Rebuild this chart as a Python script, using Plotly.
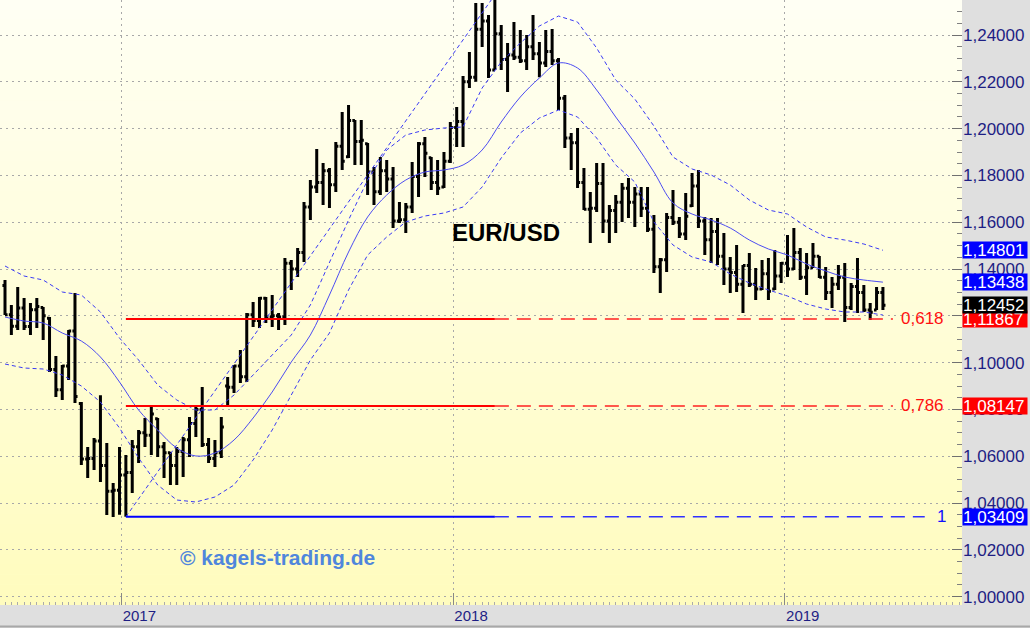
import plotly.graph_objects as go
import pandas as pd

# ---------------- data (weekly EUR/USD bars) ----------------
dates = pd.date_range("2016-08-26", periods=139, freq="7D")

opens = [1.1330, 1.1205, 1.1155, 1.1233, 1.1154, 1.1226, 1.1235, 1.1190, 1.0971, 1.0884,
         1.0985, 1.1135, 1.0825, 1.0588, 1.0590, 1.0665, 1.0560, 1.0450, 1.0455, 1.0520,
         1.0530, 1.0640, 1.0700, 1.0690, 1.0760, 1.0640, 1.0615, 1.0560, 1.0620, 1.0670,
         1.0740, 1.0800, 1.0650, 1.0590, 1.0615, 1.0900, 1.0895, 1.0985, 1.0940, 1.1205,
         1.1180, 1.1275, 1.1195, 1.1200, 1.1195, 1.1425, 1.1400, 1.1470, 1.1665, 1.1750,
         1.1770, 1.1820, 1.1760, 1.1925, 1.1880, 1.2035, 1.1945, 1.1935, 1.1815, 1.1730,
         1.1820, 1.1785, 1.1605, 1.1610, 1.1665, 1.1795, 1.1935, 1.1875, 1.1770, 1.1750,
         1.1860, 1.2005, 1.2030, 1.2200, 1.2220, 1.2425, 1.2460, 1.2250, 1.2405, 1.2295,
         1.2315, 1.2305, 1.2290, 1.2350, 1.2320, 1.2280, 1.2330, 1.2290, 1.2130, 1.1960,
         1.1940, 1.1770, 1.1655, 1.1660, 1.1765, 1.1605, 1.1650, 1.1685, 1.1745, 1.1685,
         1.1720, 1.1660, 1.1570, 1.1410, 1.1440, 1.1620, 1.1600, 1.1550, 1.1670, 1.1755,
         1.1605, 1.1525, 1.1560, 1.1455, 1.1400, 1.1385, 1.1335, 1.1415, 1.1335, 1.1315,
         1.1380, 1.1315, 1.1370, 1.1425, 1.1400, 1.1470, 1.1365, 1.1405, 1.1455, 1.1365,
         1.1300, 1.1335, 1.1365, 1.1235, 1.1325, 1.1300, 1.1225, 1.1225, 1.1300]

highs = [1.1353, 1.1246, 1.1323, 1.1276, 1.1255, 1.1276, 1.1238, 1.1195, 1.1028, 1.0990,
         1.1139, 1.1297, 1.0832, 1.0639, 1.0678, 1.0861, 1.0656, 1.0485, 1.0639, 1.0605,
         1.0669, 1.0712, 1.0763, 1.0819, 1.0763, 1.0661, 1.0618, 1.0639, 1.0682, 1.0768,
         1.0810, 1.0896, 1.0678, 1.0669, 1.0768, 1.0939, 1.0990, 1.1054, 1.1212, 1.1259,
         1.1280, 1.1280, 1.1289, 1.1212, 1.1447, 1.1438, 1.1490, 1.1686, 1.1780, 1.1913,
         1.1853, 1.1832, 1.1943, 1.2071, 1.2101, 1.2037, 1.2037, 1.1938, 1.1836, 1.1879,
         1.1866, 1.1836, 1.1686, 1.1682, 1.1857, 1.1943, 1.1964, 1.1879, 1.1866, 1.1900,
         1.2028, 1.2092, 1.2225, 1.2327, 1.2537, 1.2537, 1.2485, 1.2555, 1.2443, 1.2366,
         1.2456, 1.2421, 1.2400, 1.2485, 1.2370, 1.2421, 1.2426, 1.2302, 1.2144, 1.1981,
         1.2003, 1.1832, 1.1729, 1.1853, 1.1853, 1.1673, 1.1716, 1.1768, 1.1789, 1.1750,
         1.1750, 1.1750, 1.1631, 1.1447, 1.1639, 1.1738, 1.1622, 1.1725, 1.1810, 1.1823,
         1.1622, 1.1618, 1.1618, 1.1554, 1.1451, 1.1503, 1.1417, 1.1468, 1.1404, 1.1438,
         1.1447, 1.1481, 1.1430, 1.1545, 1.1575, 1.1490, 1.1468, 1.1511, 1.1456, 1.1409,
         1.1366, 1.1417, 1.1426, 1.1340, 1.1447, 1.1332, 1.1255, 1.1323, 1.1323]

lows = [1.1203, 1.1118, 1.1139, 1.1139, 1.1118, 1.1148, 1.1097, 1.0960, 1.0853, 1.0840,
        1.0926, 1.0827, 1.0562, 1.0507, 1.0541, 1.0490, 1.0349, 1.0340, 1.0350, 1.03409,
        1.0443, 1.0571, 1.0639, 1.0605, 1.0597, 1.0507, 1.0477, 1.0477, 1.0511, 1.0597,
        1.0682, 1.0639, 1.0571, 1.0554, 1.0592, 1.0810, 1.0870, 1.0913, 1.0917, 1.1152,
        1.1148, 1.1169, 1.1152, 1.1139, 1.1161, 1.1310, 1.1366, 1.1430, 1.1609, 1.1725,
        1.1674, 1.1661, 1.1729, 1.1823, 1.1874, 1.1844, 1.1844, 1.1716, 1.1674, 1.1716,
        1.1729, 1.1575, 1.1597, 1.1554, 1.1639, 1.1708, 1.1793, 1.1738, 1.1716, 1.1746,
        1.1853, 1.1921, 1.1921, 1.2174, 1.2200, 1.2349, 1.2216, 1.2250, 1.2250, 1.2156,
        1.2293, 1.2280, 1.2250, 1.2293, 1.2220, 1.2263, 1.2272, 1.2079, 1.1917, 1.1823,
        1.1746, 1.1652, 1.1511, 1.1644, 1.1554, 1.1511, 1.1554, 1.1601, 1.1618, 1.1579,
        1.1622, 1.1558, 1.1383, 1.1297, 1.1387, 1.1588, 1.1532, 1.1524, 1.1665, 1.1575,
        1.1460, 1.1426, 1.1417, 1.1332, 1.1297, 1.1302, 1.1212, 1.1323, 1.1267, 1.1310,
        1.1267, 1.1310, 1.1340, 1.1366, 1.1396, 1.1353, 1.1289, 1.1404, 1.1362, 1.1267,
        1.1233, 1.1310, 1.1174, 1.1225, 1.1212, 1.1216, 1.1182, 1.1225, 1.1225]

closes = [1.1205, 1.1155, 1.1233, 1.1154, 1.1226, 1.1240, 1.1200, 1.0971, 1.0884, 1.0985,
          1.1135, 1.0855, 1.0588, 1.0590, 1.0665, 1.0560, 1.0450, 1.0455, 1.0520, 1.0530,
          1.0640, 1.0700, 1.0690, 1.0780, 1.0640, 1.0615, 1.0560, 1.0620, 1.0670, 1.0740,
          1.0800, 1.0650, 1.0590, 1.0615, 1.0725, 1.0895, 1.0985, 1.0940, 1.1205, 1.1180,
          1.1275, 1.1195, 1.1200, 1.1195, 1.1425, 1.1400, 1.1470, 1.1665, 1.1750, 1.1770,
          1.1820, 1.1760, 1.1925, 1.1860, 1.2035, 1.1945, 1.1950, 1.1815, 1.1730, 1.1820,
          1.1785, 1.1605, 1.1610, 1.1665, 1.1795, 1.1935, 1.1895, 1.1770, 1.1745, 1.1860,
          1.2005, 1.2030, 1.2200, 1.2220, 1.2425, 1.2460, 1.2250, 1.2405, 1.2295, 1.2315,
          1.2305, 1.2290, 1.2350, 1.2320, 1.2280, 1.2330, 1.2290, 1.2130, 1.1960, 1.1940,
          1.1770, 1.1655, 1.1660, 1.1765, 1.1605, 1.1650, 1.1685, 1.1745, 1.1685, 1.1720,
          1.1660, 1.1570, 1.1410, 1.1440, 1.1620, 1.1600, 1.1550, 1.1625, 1.1755, 1.1605,
          1.1525, 1.1560, 1.1455, 1.1400, 1.1385, 1.1335, 1.1415, 1.1335, 1.1315, 1.1380,
          1.1305, 1.1370, 1.1425, 1.1400, 1.1470, 1.1365, 1.1405, 1.1455, 1.1365, 1.1300,
          1.1335, 1.1365, 1.1235, 1.1325, 1.1300, 1.1225, 1.1215, 1.1300, 1.12452]

# moving average and its envelope, read every third bar
band_bars = list(range(1, 140, 3))
ma_vals = [1.11949, 1.11778, 1.11692, 1.11265, 1.10923, 1.10239, 1.09171, 1.07974, 1.07120, 1.06350,
           1.06009, 1.06137, 1.06692, 1.07632, 1.08744, 1.10026, 1.11179, 1.12889, 1.14726, 1.16222,
           1.17162, 1.17803, 1.18145, 1.18231, 1.18444, 1.19085, 1.20282, 1.21350, 1.22162, 1.22803,
           1.22590, 1.21650, 1.20496, 1.19385, 1.18145, 1.16821, 1.16350, 1.16094, 1.15752, 1.15239,
           1.14855, 1.14598, 1.14214, 1.13915, 1.13658, 1.13530, 1.13438]
upper_vals = [1.14128, 1.13701, 1.13530, 1.13017, 1.12889, 1.12162, 1.11051, 1.10111, 1.09043, 1.08402,
              1.07974, 1.07974, 1.08615, 1.09470, 1.10325, 1.11179, 1.12462, 1.14299, 1.16094, 1.17803,
              1.19085, 1.19726, 1.19940, 1.20026, 1.20068, 1.21735, 1.22846, 1.23658, 1.24385, 1.24812,
              1.24556, 1.23444, 1.22077, 1.21265, 1.20111, 1.18786, 1.18274, 1.18017, 1.17590, 1.16949,
              1.16521, 1.16350, 1.15795, 1.15368, 1.15239, 1.15068, 1.14801]
lower_vals = [1.09940, 1.09769, 1.09726, 1.09470, 1.09000, 1.08316, 1.07205, 1.05923, 1.04769, 1.04128,
              1.04043, 1.04256, 1.04769, 1.05838, 1.07120, 1.08615, 1.10111, 1.11265, 1.13103, 1.14598,
              1.15368, 1.16009, 1.16265, 1.16393, 1.16650, 1.17504, 1.18744, 1.19812, 1.20453, 1.20795,
              1.20496, 1.19598, 1.18444, 1.17718, 1.16009, 1.15026, 1.14513, 1.14299, 1.13786, 1.13402,
              1.13103, 1.12846, 1.12504, 1.12291, 1.12162, 1.12162, 1.12034]

trend_dates = ["2017-01-06", "2018-02-13"]
trend_vals = [1.03409, 1.2555]

fib_levels = [1.11867, 1.08147, 1.03409]
fib_names = ["0,618", "0,786", "1"]
fib_colors = ["#ff0000", "#ff0000", "#0000ff"]
fib_dash_colors = ["#ff2020", "#ff2020", "#3030ff"]
fib_start = "2017-01-06"
fib_solid_end = "2018-02-16"
fib_dash_end = ["2019-04-30", "2019-04-30", "2019-06-04"]

box_vals = [1.14801, 1.13438, 1.11867, 1.08147, 1.03409, 1.12452]
box_texts = ["1,14801", "1,13438", "1,11867", "1,08147", "1,03409", "1,12452"]
box_colors = ["#0000ff", "#0000ff", "#ff0000", "#ff0000", "#0000ff", "#000000"]

ytick_vals = [1.00, 1.02, 1.04, 1.06, 1.08, 1.10, 1.12, 1.14, 1.16, 1.18, 1.20, 1.22, 1.24]
ytick_text = ["1,00000", "1,02000", "1,04000", "1,06000", "1,08000", "1,10000", "1,12000",
              "1,14000", "1,16000", "1,18000", "1,20000", "1,22000", "1,24000"]
xtick_vals = ["2017-01-01", "2018-01-01", "2019-01-01"]
xtick_text = ["2017", "2018", "2019"]

# ---------------- figure ----------------
FONT = "Arial, Liberation Sans, sans-serif"
NAVY = "#1e1e84"
band_dates = [dates[i - 1] for i in band_bars]

fig = go.Figure()

band_style = dict(color="#3a3af5", width=1, dash="4px,3px")
fig.add_trace(go.Scatter(x=band_dates, y=upper_vals, mode="lines", line=band_style, hoverinfo="skip"))
fig.add_trace(go.Scatter(x=band_dates, y=lower_vals, mode="lines", line=band_style, hoverinfo="skip"))
fig.add_trace(go.Scatter(x=band_dates, y=ma_vals, mode="lines", line=dict(color="#4c4cf2", width=1, shape="spline"),
                         hoverinfo="skip"))
fig.add_trace(go.Scatter(x=trend_dates, y=trend_vals, mode="lines", line=band_style, hoverinfo="skip"))

for lvl, col, dcol, dend in zip(fib_levels, fib_colors, fib_dash_colors, fib_dash_end):
    fig.add_trace(go.Scatter(x=[fib_start, fib_solid_end], y=[lvl, lvl], mode="lines",
                             line=dict(color=col, width=2), hoverinfo="skip"))
    fig.add_trace(go.Scatter(x=[fib_solid_end, dend], y=[lvl, lvl], mode="lines",
                             line=dict(color=dcol, width=1.5, dash="14px,8px"), hoverinfo="skip"))

fig.add_trace(go.Ohlc(x=dates, open=opens, high=highs, low=lows, close=closes,
                      increasing=dict(line=dict(color="black", width=3)),
                      decreasing=dict(line=dict(color="black", width=3)),
                      tickwidth=0.4, hoverinfo="skip"))

# background gradient (pale top -> yellow bottom)
shapes = []
n = 60
top = (255, 255, 244)
bot = (255, 252, 190)
for k in range(n):
    t = (k + 0.5) / n
    c = tuple(int(round(top[j] + (bot[j] - top[j]) * t)) for j in range(3))
    shapes.append(dict(type="rect", xref="paper", yref="paper", x0=0, x1=1,
                       y0=1 - (k + 1) / n, y1=1 - k / n + 0.001, line=dict(width=0),
                       fillcolor="rgb(%d,%d,%d)" % c, layer="below"))
# thin darker rule along the very bottom of the frame
shapes.append(dict(type="line", xref="paper", yref="paper", x0=0, x1=1.08, y0=-0.0355, y1=-0.0355,
                   line=dict(color="#a8a8a8", width=2), layer="above"))

annotations = [
    dict(text="<b>EUR/USD</b>", xref="paper", yref="paper", x=0.526, y=0.615, xanchor="center",
         yanchor="middle", showarrow=False, font=dict(family=FONT, size=24, color="black")),
    dict(text="<b>© kagels-trading.de</b>", xref="paper", yref="paper", x=0.288, y=0.079,
         xanchor="center", yanchor="middle", showarrow=False,
         font=dict(family=FONT, size=21, color="#4f86dc")),
]
for lvl, name, col in zip(fib_levels, fib_names, fib_colors):
    annotations.append(dict(text=name, xref="paper", yref="y", x=0.9345 if name != "1" else 0.972, y=lvl,
                            xanchor="left", yanchor="middle", showarrow=False,
                            font=dict(family=FONT, size=17, color="#ff1010" if col == "#ff0000" else "#1010ff")))
for v, t, c in zip(box_vals, box_texts, box_colors):
    annotations.append(dict(text=t, xref="paper", yref="y", x=1, y=v, xanchor="left", yanchor="middle",
                            showarrow=False, bgcolor=c, width=64, height=16, align="left", borderpad=0,
                            font=dict(family=FONT, size=17, color="white")))

fig.update_layout(
    width=1030, height=628,
    margin=dict(l=0, r=68, t=0, b=23),
    paper_bgcolor="#dfdfdf", plot_bgcolor="#fffde0",
    showlegend=False,
    shapes=shapes,
    annotations=annotations,
    xaxis=dict(type="date", range=["2016-08-20 12:00", "2019-07-15"],
               tickvals=xtick_vals, ticktext=xtick_text,
               ticks="inside", ticklen=12, tickcolor="#888888",
               showgrid=True, gridcolor="#a8a8a8", griddash="2px,4px", gridwidth=1,
               tickfont=dict(family=FONT, size=15, color=NAVY), ticklabelshift=18,
               minor=dict(ticks="inside", ticklen=3, tickcolor="#aaaaaa", dtick=7 * 86400000,
                          tick0="2016-08-26", showgrid=False),
               rangeslider=dict(visible=False), zeroline=False, showline=False, fixedrange=True),
    yaxis=dict(side="right", range=[0.99641, 1.25496],
               tickvals=ytick_vals, ticktext=ytick_text,
               ticks="inside", ticklen=10, tickcolor="#707070",
               minor=dict(ticks="inside", ticklen=5, tickcolor="#808080", dtick=0.005, showgrid=False),
               showgrid=True, gridcolor="#a8a8a8", griddash="2px,4px", gridwidth=1,
               tickfont=dict(family=FONT, size=17, color=NAVY),
               zeroline=False, showline=False, fixedrange=True),
)

fig.write_html("out.html", config={"displayModeBar": False},
               post_script="document.body.style.margin='0px';document.body.style.padding='0px';")
